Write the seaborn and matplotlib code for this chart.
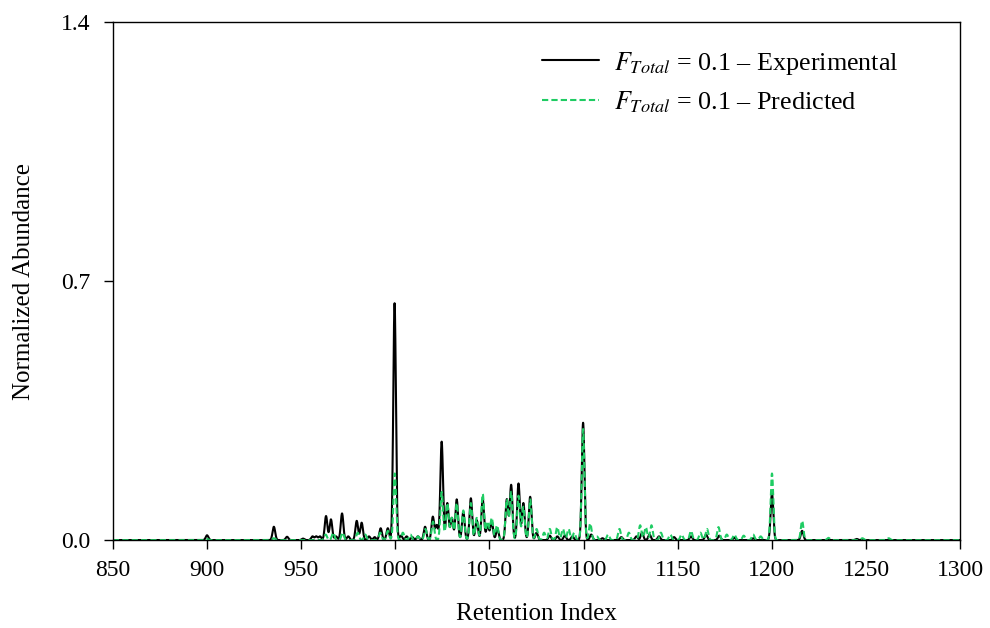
import numpy as np
import pandas as pd
import matplotlib
matplotlib.use("Agg")
import matplotlib.pyplot as plt
import seaborn as sns

# Peak table for the experimental chromatogram: retention index and height
exp_centers = [900, 935.5, 942.5, 951, 956, 958, 960, 963.2, 965.8, 968.5, 971.7, 975,
               979.5, 982.1, 986, 989, 992.2, 996, 999.6, 1003, 1006, 1009, 1012,
               1015.8, 1019.9, 1022, 1024.6, 1027.6, 1030, 1032.6, 1036.1, 1040.1,
               1043.2, 1046.4, 1049, 1051.2, 1054.2, 1059.2, 1061.5, 1065.4, 1068,
               1071.6, 1075, 1082, 1086, 1090, 1094, 1099.7, 1104, 1110, 1120, 1128,
               1131, 1135, 1140, 1148, 1157, 1165, 1172, 1180, 1190, 1200, 1216, 1245]
exp_heights = [0.013, 0.036, 0.009, 0.004, 0.01, 0.01, 0.01, 0.065, 0.056, 0.01, 0.072, 0.01,
               0.052, 0.047, 0.01, 0.008, 0.032, 0.032, 0.64, 0.012, 0.01, 0.008, 0.01,
               0.036, 0.063, 0.04, 0.266, 0.10, 0.06, 0.11, 0.076, 0.113,
               0.054, 0.11, 0.04, 0.05, 0.03, 0.11, 0.149, 0.153, 0.10,
               0.117, 0.02, 0.012, 0.01, 0.012, 0.01, 0.317, 0.015, 0.005, 0.008, 0.01,
               0.02, 0.015, 0.01, 0.008, 0.01, 0.015, 0.012, 0.006, 0.005, 0.126, 0.025, 0.003]

# Peak table for the predicted chromatogram
pred_centers = [900, 935.5, 963, 967, 972, 980, 984, 992, 996, 999.7, 1004, 1008, 1012,
                1016, 1020, 1024.6, 1027.6, 1030, 1032.6, 1036.1, 1040.1, 1043.2, 1046.4,
                1049, 1051.2, 1054, 1059.2, 1061.5, 1065.4, 1068, 1071.6, 1075, 1079,
                1082, 1086, 1089, 1092, 1095, 1099.7, 1103.5, 1107, 1113, 1119, 1124,
                1130, 1133, 1136, 1141, 1146, 1152, 1157, 1162, 1165.5, 1171.6, 1176,
                1180, 1185, 1190, 1194, 1200, 1216, 1230, 1248, 1262]
pred_heights = [0.003, 0.005, 0.015, 0.02, 0.02, 0.02, 0.015, 0.02, 0.025, 0.18, 0.02, 0.015, 0.01,
                0.03, 0.05, 0.13, 0.10, 0.06, 0.10, 0.08, 0.10, 0.06, 0.125,
                0.05, 0.06, 0.04, 0.11, 0.13, 0.12, 0.09, 0.11, 0.03, 0.02,
                0.03, 0.035, 0.03, 0.03, 0.02, 0.30, 0.045, 0.01, 0.015, 0.03, 0.02,
                0.04, 0.035, 0.04, 0.02, 0.015, 0.015, 0.025, 0.02, 0.03, 0.035, 0.015,
                0.015, 0.012, 0.015, 0.01, 0.18, 0.052, 0.006, 0.005, 0.005]

x_ticks = [850, 900, 950, 1000, 1050, 1100, 1150, 1200, 1250, 1300]
y_ticks = [0.0, 0.7, 1.4]

PEAK_SIGMA = 0.7


def chromatogram(grid, centers, heights, sigma=PEAK_SIGMA):
    c = np.asarray(centers)[:, None]
    h = np.asarray(heights)[:, None]
    return (h * np.exp(-0.5 * ((grid[None, :] - c) / sigma) ** 2)).sum(axis=0)


ri = np.arange(850, 1300.05, 0.1)
df = pd.DataFrame({
    "ri": np.concatenate([ri, ri]),
    "abundance": np.concatenate([chromatogram(ri, exp_centers, exp_heights),
                                 chromatogram(ri, pred_centers, pred_heights)]),
    "series": ["exp"] * len(ri) + ["pred"] * len(ri),
})

sns.set_theme(style="white")
plt.rcParams["font.family"] = ["Liberation Serif", "DejaVu Serif"]
plt.rcParams["mathtext.fontset"] = "stix"
plt.rcParams["text.color"] = "black"
plt.rcParams["axes.labelcolor"] = "black"

fig = plt.figure(figsize=(9.9, 6.28), dpi=100)
ax = fig.add_axes([0.114, 0.140, 0.856, 0.825])

sns.lineplot(data=df[df.series == "exp"], x="ri", y="abundance", ax=ax,
             color="black", linewidth=1.5,
             label=r"$F_{Total}$ = 0.1 – Experimental")
sns.lineplot(data=df[df.series == "pred"], x="ri", y="abundance", ax=ax,
             color="#1fcc63", linewidth=1.5, linestyle=(0, (3, 1.5)),
             label=r"$F_{Total}$ = 0.1 – Predicted")

ax.set_xlim(850, 1300)
ax.set_ylim(0, 1.4)
ax.set_xticks(x_ticks)
ax.set_yticks(y_ticks)
ax.set_yticklabels([f"{v:.1f}" for v in y_ticks])
ax.tick_params(axis="both", direction="out", length=6.5, width=1, colors="black",
               labelsize=17, bottom=True, left=True, top=False, right=False)
ax.tick_params(axis="x", pad=8)
ax.tick_params(axis="y", pad=10)
for s in ax.spines.values():
    s.set_color("black")
    s.set_linewidth(1)

ax.set_xlabel("Retention Index", fontsize=18, labelpad=16)
ax.set_ylabel("Normalized Abundance", fontsize=18, labelpad=18)

ax.legend(loc="upper right", bbox_to_anchor=(0.94, 0.967), borderaxespad=0,
          frameon=False, fontsize=18.8, handlelength=2.2,
          handletextpad=0.58, labelspacing=0.5)

fig.savefig("out.png", dpi=100)
